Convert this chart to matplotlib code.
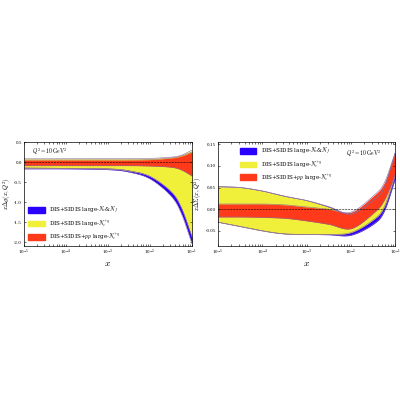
import numpy as np
import matplotlib
matplotlib.use("Agg")
import matplotlib.pyplot as plt
from matplotlib.patches import Patch

plt.rcParams['font.family'] = 'DejaVu Serif'
plt.rcParams['mathtext.fontset'] = 'cm'

# Left panel: x Delta g
lx_L = [1e-5, 1e-4, 1e-3, 10**-2.5, 1e-2, 10**-1.5, 10**-1.25, 1e-1]
blue_lo_L = [-0.17, -0.17, -0.19, -0.25, -0.42, -0.85, -1.3, -2.05]
blue_hi_L = [-0.15, -0.16, -0.17, -0.22, -0.36, -0.74, -1.15, -1.87]
yel_lo_L = [-0.15, -0.16, -0.17, -0.22, -0.36, -0.74, -1.15, -1.87]
yel_hi_L = [0.08, 0.08, 0.08, 0.08, 0.09, 0.12, 0.17, 0.3]
red_lo_L = [-0.09, -0.09, -0.09, -0.09, -0.1, -0.13, -0.2, -0.35]
red_hi_L = [0.05, 0.05, 0.05, 0.05, 0.06, 0.1, 0.15, 0.25]

# Right panel: x Delta Sigma
lx_R = [1e-5, 10**-4.5, 1e-4, 10**-3.5, 1e-3, 10**-2.5, 1e-2, 10**-1.5, 10**-1.25, 1e-1]
blue_lo_R = [-0.03, -0.04, -0.05, -0.057, -0.058, -0.059, -0.06, -0.035, -0.005, 0.07]
blue_hi_R = [0.052, 0.05, 0.042, 0.03, 0.02, 0.006, -0.01, 0.02, 0.05, 0.13]
yel_lo_R = [-0.03, -0.04, -0.05, -0.057, -0.058, -0.058, -0.054, -0.025, 0.005, 0.08]
yel_hi_R = [0.052, 0.05, 0.042, 0.03, 0.02, 0.005, -0.012, 0.02, 0.05, 0.13]
red_lo_R = [-0.018, -0.018, -0.019, -0.021, -0.027, -0.035, -0.045, -0.01, 0.02, 0.08]
red_hi_R = [0.012, 0.012, 0.012, 0.01, 0.005, 0.0, -0.007, 0.03, 0.06, 0.13]

BLUE, YEL, RED = '#2a00ff', '#f0f03a', '#ff3a1a'
labels = [r'DIS+SIDIS large-$N_c$&$N_f$', r'DIS+SIDIS large-$N_c^{+q}$',
          r'DIS+SIDIS+$pp$ large-$N_c^{+q}$']

def interp(xs, ys, n=30):
    # Catmull-Rom spline in log10(x)
    t = np.log10(xs); y = np.asarray(ys, float)
    P = np.concatenate([[2*y[0]-y[1]], y, [2*y[-1]-y[-2]]])
    T = np.concatenate([[2*t[0]-t[1]], t, [2*t[-1]-t[-2]]])
    gx, gy = [], []
    for i in range(1, len(P)-2):
        s = np.linspace(0, 1, n, endpoint=(i == len(P)-3))
        for arr, out in ((T, gx), (P, gy)):
            p0, p1, p2, p3 = arr[i-1:i+3]
            out.extend(0.5*((2*p1) + (-p0+p2)*s + (2*p0-5*p1+4*p2-p3)*s**2 + (-p0+3*p1-3*p2+p3)*s**3))
    return 10**np.array(gx), np.array(gy)

fig = plt.figure(figsize=(4, 4), dpi=100)
axL = fig.add_axes([0.06, 0.385, 0.42, 0.26])
axR = fig.add_axes([0.545, 0.385, 0.443, 0.26])

def draw(ax, xs, bands):
    for lo, hi, c in bands:
        x, l = interp(xs, lo); _, h = interp(xs, hi)
        ax.fill_between(x, l, h, color=c, lw=0)
        ax.plot(x, l, color='#8a6a9a', lw=0.4)
        ax.plot(x, h, color='#8a6a9a', lw=0.4)
    ax.axhline(0, color='k', ls='--', lw=0.4)
    ax.set_xscale('log')
    ax.set_xlim(1e-5, 1e-1)
    ax.tick_params(labelsize=3, length=1.5, width=0.4, direction='in', which='both', top=True, right=True, pad=1.5)
    ax.set_xticks([1e-5, 1e-4, 1e-3, 1e-2, 1e-1])
    ax.set_xlabel(r'$x$', fontsize=7, labelpad=1)
    for s in ax.spines.values():
        s.set_linewidth(0.5)

draw(axL, lx_L, [(blue_lo_L, blue_hi_L, BLUE), (yel_lo_L, yel_hi_L, YEL), (red_lo_L, red_hi_L, RED)])
axL.set_ylim(-2.1, 0.35)
axL.set_yticks([-2.0, -1.5, -1.0, -0.5, 0.0, 0.5])
axL.set_yticklabels(['-2.0', '-1.5', '-1.0', '-0.5', '0.0', '0.5'])
axL.set_ylabel(r'$x\Delta g(x,Q^2)$', fontsize=4.5, labelpad=1)
axL.text(0.05, 0.88, r'$Q^2=10\,\mathrm{GeV}^2$', transform=axL.transAxes, fontsize=4)

draw(axR, lx_R, [(blue_lo_R, blue_hi_R, BLUE), (yel_lo_R, yel_hi_R, YEL), (red_lo_R, red_hi_R, RED)])
axR.set_ylim(-0.085, 0.155)
axR.set_yticks([-0.05, 0.0, 0.05, 0.10, 0.15])
axR.set_yticklabels(['-0.05', '0.00', '0.05', '0.10', '0.15'])
axR.set_ylabel(r'$x\Delta\Sigma(x,Q^2)$', fontsize=4.5, labelpad=1)
axR.text(0.72, 0.87, r'$Q^2=10\,\mathrm{GeV}^2$', transform=axR.transAxes, fontsize=4)

handles = [Patch(color=BLUE), Patch(color=YEL), Patch(color=RED)]
axL.legend(handles, labels, loc='lower left', fontsize=4, frameon=False,
           handlelength=3, handleheight=1.2, borderaxespad=0.3, labelspacing=0.5)
axR.legend(handles, labels, loc='upper left', bbox_to_anchor=(0.1, 1.0), fontsize=4, frameon=False,
           handlelength=3, handleheight=1.2, borderaxespad=0.3, labelspacing=0.4)

fig.savefig('out.png', dpi=100)
